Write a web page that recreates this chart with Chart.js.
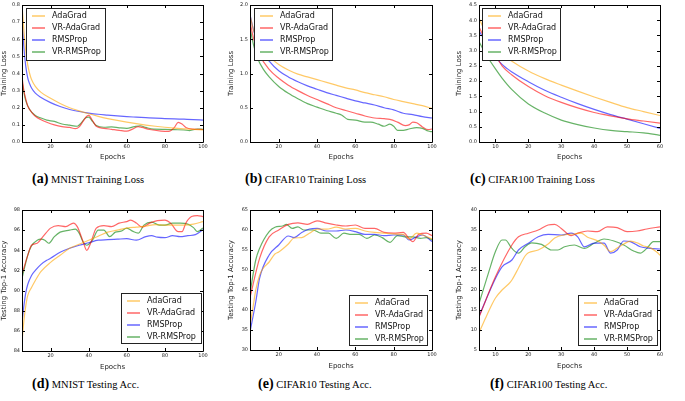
<!DOCTYPE html>
<html>
<head>
<meta charset="utf-8">
<script src="https://cdn.jsdelivr.net/npm/chart.js@4.4.1/dist/chart.umd.min.js"></script>
<style>
  body { margin: 0; background: #fff; width: 685px; height: 401px; position: relative; overflow: hidden; }
  canvas { position: absolute; }
  .cap { position: absolute; font-family: "Liberation Serif", "DejaVu Serif", serif; font-size: 10.5px; color: #000; white-space: nowrap; }
  .cap b { font-size: 14px; }
</style>
</head>
<body>
<canvas id="a" width="215" height="165" style="left:0px;top:0px"></canvas>
<canvas id="b" width="215" height="165" style="left:225px;top:0px"></canvas>
<canvas id="c" width="225" height="165" style="left:450px;top:0px"></canvas>
<canvas id="d" width="215" height="173" style="left:0px;top:200px"></canvas>
<canvas id="e" width="215" height="172" style="left:225px;top:200px"></canvas>
<canvas id="f" width="225" height="172" style="left:450px;top:200px"></canvas>

<div class="cap" style="left:32px;top:171px"><b>(a)</b> MNIST Training Loss</div>
<div class="cap" style="left:245px;top:171px"><b>(b)</b> CIFAR10 Training Loss</div>
<div class="cap" style="left:470px;top:171px"><b>(c)</b> CIFAR100 Training Loss</div>
<div class="cap" style="left:32px;top:376px"><b>(d)</b> MNIST Testing Acc.</div>
<div class="cap" style="left:258px;top:376px"><b>(e)</b> CIFAR10 Testing Acc.</div>
<div class="cap" style="left:490px;top:376px"><b>(f)</b> CIFAR100 Testing Acc.</div>

<script>
// series names and colours (same for every panel)
const seriesNames = ["AdaGrad", "VR-AdaGrad", "RMSProp", "VR-RMSProp"];
const seriesColors = ["rgba(255,165,0,0.6)", "rgba(255,0,0,0.6)", "rgba(0,0,255,0.6)", "rgba(0,128,0,0.6)"];

// x tick labels
const epochTicks100 = [20, 40, 60, 80, 100];
const epochTicks60 = [10, 20, 30, 40, 50, 60];

// (a) MNIST training loss, [epoch, loss]
const mnistLossAdaGrad = [[5,0.80],[6,0.65],[7,0.53],[8,0.45],[9,0.40],[10,0.365],[12,0.325],[15,0.29],[20,0.255],[25,0.225],[30,0.20],[35,0.182],[40,0.165],[45,0.15],[50,0.137],[55,0.126],[60,0.116],[65,0.107],[70,0.099],[75,0.092],[80,0.086],[85,0.081],[90,0.077],[95,0.074],[100,0.071]];
const mnistLossVRAdaGrad = [[5,0.38],[6,0.30],[7,0.25],[8,0.21],[10,0.175],[12,0.15],[15,0.13],[18,0.115],[22,0.10],[26,0.09],[30,0.085],[33,0.078],[35,0.088],[37,0.12],[39,0.15],[40,0.155],[42,0.125],[44,0.092],[48,0.08],[52,0.074],[56,0.068],[60,0.063],[63,0.075],[66,0.09],[68,0.085],[72,0.073],[78,0.064],[82,0.062],[85,0.085],[87,0.115],[89,0.105],[91,0.085],[95,0.075],[100,0.073]];
const mnistLossRMSProp = [[5,0.72],[6,0.55],[7,0.44],[8,0.375],[9,0.34],[10,0.315],[12,0.285],[15,0.26],[20,0.23],[25,0.207],[30,0.19],[35,0.178],[40,0.169],[45,0.162],[50,0.157],[55,0.152],[60,0.148],[65,0.145],[70,0.142],[75,0.139],[80,0.137],[85,0.135],[90,0.133],[95,0.131],[100,0.128]];
const mnistLossVRRMSProp = [[5,0.36],[6,0.29],[7,0.24],[9,0.19],[12,0.155],[15,0.14],[18,0.128],[22,0.12],[26,0.105],[30,0.098],[34,0.092],[36,0.11],[38,0.138],[40,0.145],[42,0.12],[44,0.096],[48,0.086],[52,0.088],[56,0.083],[60,0.08],[64,0.09],[67,0.095],[70,0.085],[74,0.075],[80,0.074],[85,0.072],[90,0.07],[93,0.067],[97,0.076],[100,0.074]];

// (b) CIFAR10 training loss
const cifar10LossAdaGrad = [[5,1.85],[7,1.62],[10,1.43],[15,1.25],[20,1.13],[25,1.05],[30,0.99],[35,0.95],[40,0.91],[45,0.87],[50,0.83],[55,0.79],[60,0.76],[65,0.72],[70,0.69],[75,0.66],[80,0.62],[85,0.59],[90,0.56],[95,0.53],[100,0.49]];
const cifar10LossVRAdaGrad = [[5,1.75],[7,1.5],[10,1.27],[15,1.06],[20,0.93],[25,0.83],[30,0.75],[35,0.68],[40,0.62],[45,0.56],[50,0.5],[55,0.46],[60,0.42],[65,0.38],[70,0.35],[75,0.34],[78,0.33],[82,0.29],[86,0.24],[88,0.25],[90,0.29],[92,0.28],[95,0.22],[98,0.18],[100,0.19]];
const cifar10LossRMSProp = [[5,1.86],[7,1.62],[10,1.38],[15,1.18],[20,1.04],[25,0.95],[30,0.88],[35,0.82],[40,0.77],[45,0.72],[50,0.68],[55,0.64],[60,0.6],[65,0.57],[70,0.54],[75,0.5],[80,0.47],[85,0.42],[90,0.4],[95,0.37],[100,0.35]];
const cifar10LossVRRMSProp = [[5,1.66],[7,1.4],[9,1.22],[12,1.06],[15,0.95],[20,0.81],[25,0.71],[30,0.63],[35,0.56],[40,0.51],[45,0.46],[50,0.42],[53,0.39],[56,0.33],[60,0.32],[65,0.29],[68,0.29],[72,0.26],[75,0.23],[78,0.26],[80,0.23],[82,0.17],[85,0.17],[88,0.19],[92,0.21],[95,0.2],[98,0.16],[100,0.15]];

// (c) CIFAR100 training loss
const cifar100LossAdaGrad = [[5,4.07],[7,3.6],[10,3.1],[12,2.9],[15,2.65],[20,2.33],[25,2.08],[30,1.87],[35,1.67],[40,1.48],[45,1.3],[50,1.13],[55,1.0],[60,0.87]];
const cifar100LossVRAdaGrad = [[5,3.78],[7,3.35],[10,2.85],[12,2.5],[15,2.2],[20,1.82],[25,1.52],[30,1.3],[35,1.12],[40,0.97],[45,0.86],[50,0.76],[55,0.69],[60,0.62]];
const cifar100LossRMSProp = [[5,3.65],[7,3.3],[10,2.8],[12,2.55],[15,2.3],[20,1.98],[25,1.7],[30,1.47],[35,1.26],[40,1.07],[45,0.9],[50,0.75],[55,0.6],[60,0.45]];
const cifar100LossVRRMSProp = [[5,3.3],[7,2.9],[10,2.4],[12,2.1],[15,1.72],[20,1.25],[25,0.95],[30,0.72],[35,0.57],[40,0.46],[45,0.38],[50,0.34],[55,0.3],[60,0.22]];

// (d) MNIST testing top-1 accuracy
const mnistAccAdaGrad = [[5,84.9],[6,87],[7,88.5],[8,89.5],[10,90.3],[12,91.0],[15,91.9],[20,92.8],[25,93.5],[30,94.2],[35,94.6],[40,95.0],[45,95.4],[50,95.8],[55,96.0],[60,96.2],[65,96.3],[70,96.4],[75,96.55],[80,96.5],[85,96.5],[90,96.5],[95,96.6],[100,96.85]];
const mnistAccVRAdaGrad = [[5,91.6],[8,93.5],[10,94.5],[13,94.7],[16,95.35],[20,96.2],[24,96.45],[28,96.35],[32,96.7],[34,96.35],[37,94.9],[39,94.0],[41,94.7],[44,96.2],[48,96.45],[52,96.35],[56,96.7],[60,96.85],[62,97.0],[65,96.7],[68,96.3],[72,96.7],[76,96.95],[80,97.0],[83,96.7],[87,95.85],[89,95.85],[91,96.7],[94,97.35],[97,97.45],[100,97.35]];
const mnistAccRMSProp = [[5,86.8],[6,88.5],[7,89.8],[8,90.6],[10,91.5],[12,92.0],[15,92.6],[18,93.0],[20,93.2],[25,93.8],[30,94.2],[35,94.5],[40,94.75],[45,95.0],[50,95.05],[55,95.1],[60,95.15],[65,95.0],[70,95.35],[73,95.45],[76,95.3],[80,95.25],[84,95.45],[88,95.35],[92,95.45],[96,95.55],[100,96.05]];
const mnistAccVRRMSProp = [[5,91.2],[8,93.5],[10,94.45],[13,95.0],[15,95.1],[17,95.0],[19,94.7],[22,95.35],[25,95.8],[30,96.0],[33,96.1],[35,95.7],[37,94.85],[39,94.5],[42,95.0],[45,96.0],[48,96.0],[51,95.35],[54,95.8],[57,95.9],[60,96.2],[63,95.9],[66,95.7],[69,96.5],[73,96.8],[77,96.5],[80,96.5],[84,96.7],[88,96.7],[92,96.6],[95,96.25],[97,95.85],[100,96.2]];

// (e) CIFAR10 testing top-1 accuracy
const cifar10AccAdaGrad = [[5,36],[7,42],[8,45],[10,48.7],[12,50.5],[15,52],[18,54],[20,54.5],[25,56.5],[28,58],[32,58.1],[36,59.2],[40,60.2],[45,60.2],[50,60.7],[55,60.25],[60,60.4],[65,59.75],[70,59.4],[75,59.2],[80,59.0],[85,58.9],[88,57.75],[92,59.2],[95,58.75],[100,57.75]];
const cifar10AccVRAdaGrad = [[5,43.1],[10,52.9],[15,58.3],[20,60.0],[25,61.4],[30,61.8],[35,61.4],[40,62.3],[45,61.7],[50,61.25],[55,61.0],[60,61.25],[65,60.4],[70,60.4],[75,59.4],[80,59.2],[85,59.4],[88,57.9],[90,57.1],[93,58.9],[97,59.2],[100,58.6]];
const cifar10AccRMSProp = [[5,34.5],[8,42],[10,47.9],[15,53.75],[20,56.25],[25,58.5],[28,58.1],[32,59.4],[36,60.25],[40,60.4],[45,59.75],[50,59.75],[55,60.0],[60,59.6],[65,58.9],[70,58.9],[75,58.6],[80,58.75],[85,58.75],[88,57.5],[92,58.3],[95,58.75],[100,57.1]];
const cifar10AccVRRMSProp = [[5,44.2],[8,52.5],[10,55.4],[15,59.6],[18,60.7],[22,61.0],[24,61.4],[27,60.4],[30,60.8],[33,60.0],[38,60.0],[42,59.2],[46,59.2],[50,57.9],[54,59.2],[58,58.9],[62,58.9],[66,57.9],[70,58.75],[74,58.1],[78,56.9],[82,58.6],[86,58.3],[90,58.3],[94,57.9],[97,58.1],[100,57.5]];

// (f) CIFAR100 testing top-1 accuracy
const cifar100AccAdaGrad = [[5,9.3],[7,13],[9,16.5],[10,18],[12,20],[14,21.5],[15,22.5],[17,25.5],[19,28.5],[20,29.3],[23,30],[26,31.5],[28,33],[31,33.8],[34,34],[36,34.2],[38,33.2],[41,32.3],[43,31.2],[45,29.6],[47,30.5],[49,31.5],[51,32.2],[53,31.8],[55,31],[57,30.6],[59,29.5],[60,28.7]];
const cifar100AccVRAdaGrad = [[5,13.2],[10,23.3],[15,31.25],[17,33.3],[20,34.2],[23,35],[26,36.25],[28,36.4],[30,35.4],[33,33.6],[35,34.2],[38,34.75],[41,34.6],[44,35.8],[47,35.6],[50,34.6],[53,34.75],[56,35.25],[60,35.8]];
const cifar100AccRMSProp = [[5,13.5],[10,22.9],[12,25.8],[15,27.5],[17,30],[20,31.7],[23,33.3],[26,33.9],[30,33.75],[33,34.2],[35,33.3],[37,30.8],[40,31.7],[43,31.7],[45,29.2],[47,30],[49,32.25],[51,32.1],[54,30.8],[57,30.4],[60,30.25]];
const cifar100AccVRRMSProp = [[5,16.6],[8,24.6],[10,29.6],[12,32.5],[13,32.5],[15,30.4],[17,29.2],[19,30.8],[21,31.8],[24,31.4],[27,30],[29,30],[31,30.8],[34,31.25],[37,30.4],[40,31.7],[43,32.75],[46,32.25],[49,31.25],[52,29.75],[54,29.2],[56,30.4],[58,32.1],[60,32.1]];

const axisFont = "DejaVu Sans";

// plot frame with inward ticks on all four sides
const framePlugin = {
    id: "frame",
    afterDraw(chart) {
        const ctx = chart.ctx;
        const a = chart.chartArea;
        const xs = chart.scales.x, ys = chart.scales.y;
        ctx.save();
        ctx.strokeStyle = "#000";
        ctx.lineWidth = 1;
        ctx.beginPath();
        ctx.rect(Math.round(a.left) + 0.5, Math.round(a.top) + 0.5, Math.round(a.right - a.left), Math.round(a.bottom - a.top));
        ctx.stroke();
        ctx.beginPath();
        xs.ticks.forEach(t => {
            const px = Math.round(xs.getPixelForValue(t.value)) + 0.5;
            ctx.moveTo(px, a.bottom); ctx.lineTo(px, a.bottom - 3);
            ctx.moveTo(px, a.top); ctx.lineTo(px, a.top + 3);
        });
        ys.ticks.forEach(t => {
            const py = Math.round(ys.getPixelForValue(t.value)) + 0.5;
            ctx.moveTo(a.left, py); ctx.lineTo(a.left + 3, py);
            ctx.moveTo(a.right, py); ctx.lineTo(a.right - 3, py);
        });
        ctx.stroke();
        ctx.restore();
    }
};

// matplotlib-style legend box inside the plot
const boxLegendPlugin = {
    id: "boxLegend",
    afterDraw(chart, args, opts) {
        const ctx = chart.ctx;
        const a = chart.chartArea;
        const x0 = opts.corner === "tl" ? a.left + opts.dx : a.right - opts.dx;
        const y0 = opts.corner === "tl" ? a.top + opts.dy : a.bottom - opts.dy;
        ctx.save();
        ctx.fillStyle = "#fff";
        ctx.fillRect(x0, y0, opts.w, opts.h);
        ctx.strokeStyle = "#222";
        ctx.lineWidth = 1;
        ctx.strokeRect(Math.round(x0) + 0.5, Math.round(y0) + 0.5, opts.w, opts.h);
        ctx.font = "8px '" + axisFont + "'";
        ctx.textBaseline = "middle";
        chart.data.datasets.forEach((ds, i) => {
            const y = y0 + 8 + i * 12;
            ctx.strokeStyle = ds.borderColor;
            ctx.lineWidth = 1.5;
            ctx.beginPath();
            ctx.moveTo(x0 + 6, y); ctx.lineTo(x0 + 19, y);
            ctx.stroke();
            ctx.fillStyle = "#111";
            ctx.fillText(ds.label, x0 + 26, y);
        });
        ctx.restore();
    }
};

function makePanel(id, series, xMax, xTicks, yMin, yMax, yStep, yDecimals, yTitle, geo) {
    const datasets = series.map((pts, i) => ({
        label: seriesNames[i],
        data: pts.map(p => ({ x: p[0], y: p[1] })),
        borderColor: seriesColors[i],
        borderWidth: 1.2,
        pointRadius: 0,
        fill: false,
        cubicInterpolationMode: "monotone"
    }));
    return new Chart(document.getElementById(id), {
        type: "line",
        data: { datasets: datasets },
        options: {
            responsive: false,
            animation: false,
            layout: { padding: { top: geo.padTop, right: geo.padRight, left: 0, bottom: 0 } },
            plugins: {
                legend: { display: false },
                tooltip: { enabled: false },
                boxLegend: geo.legend
            },
            scales: {
                x: {
                    type: "linear",
                    min: 5,
                    max: xMax,
                    afterBuildTicks: scale => { scale.ticks = xTicks.map(v => ({ value: v })); },
                    afterFit: scale => { scale.height = geo.xH; },
                    grid: { display: false, drawTicks: false },
                    border: { display: false },
                    ticks: { padding: 2, color: "#222", font: { family: axisFont, size: 5 }, maxRotation: 0 },
                    title: { display: true, text: "Epochs", color: "#222", font: { family: axisFont, size: 7 }, padding: { top: 0, bottom: geo.xTitlePad } }
                },
                y: {
                    min: yMin,
                    max: yMax,
                    afterFit: scale => { scale.width = geo.yW; },
                    grid: { display: false, drawTicks: false },
                    border: { display: false },
                    ticks: { stepSize: yStep, padding: 2, color: "#222", font: { family: axisFont, size: 5 }, callback: v => Number(v).toFixed(yDecimals) },
                    title: { display: true, text: yTitle, color: "#222", font: { family: axisFont, size: 7 }, padding: { top: geo.yTitlePad, bottom: 0 } }
                }
            }
        },
        plugins: [framePlugin, boxLegendPlugin]
    });
}

makePanel("a", [mnistLossAdaGrad, mnistLossVRAdaGrad, mnistLossRMSProp, mnistLossVRRMSProp],
    100, epochTicks100, 0, 0.8, 0.1, 1, "Training Loss",
    { yW: 22, xH: 23, padTop: 2, padRight: 12, yTitlePad: 0, xTitlePad: 4, legend: { corner: "tl", dx: 4, dy: 3, w: 79, h: 52 } });
makePanel("b", [cifar10LossAdaGrad, cifar10LossVRAdaGrad, cifar10LossRMSProp, cifar10LossVRRMSProp],
    100, epochTicks100, 0, 2.0, 0.5, 1, "Training Loss",
    { yW: 25, xH: 23, padTop: 2, padRight: 8, yTitlePad: 2, xTitlePad: 4, legend: { corner: "tl", dx: 4, dy: 3, w: 78, h: 52 } });
makePanel("c", [cifar100LossAdaGrad, cifar100LossVRAdaGrad, cifar100LossRMSProp, cifar100LossVRRMSProp],
    60, epochTicks60, 0, 4.5, 0.5, 1, "Training Loss",
    { yW: 29, xH: 23, padTop: 2, padRight: 15, yTitlePad: 5, xTitlePad: 4, legend: { corner: "tl", dx: 3, dy: 3, w: 78, h: 52 } });
makePanel("d", [mnistAccAdaGrad, mnistAccVRAdaGrad, mnistAccRMSProp, mnistAccVRRMSProp],
    100, epochTicks100, 84, 98, 2, 0, "Testing Top-1 Accuracy",
    { yW: 22, xH: 22, padTop: 10, padRight: 12, yTitlePad: 0, xTitlePad: 2, legend: { corner: "br", dx: 82, dy: 58, w: 80, h: 50 } });
makePanel("e", [cifar10AccAdaGrad, cifar10AccVRAdaGrad, cifar10AccRMSProp, cifar10AccVRRMSProp],
    100, epochTicks100, 30, 65, 5, 0, "Testing Top-1 Accuracy",
    { yW: 25, xH: 22, padTop: 10, padRight: 8, yTitlePad: 2, xTitlePad: 2, legend: { corner: "br", dx: 83, dy: 55, w: 78, h: 50 } });
makePanel("f", [cifar100AccAdaGrad, cifar100AccVRAdaGrad, cifar100AccRMSProp, cifar100AccVRRMSProp],
    60, epochTicks60, 5, 40, 5, 0, "Testing Top-1 Accuracy",
    { yW: 29, xH: 22, padTop: 10, padRight: 15, yTitlePad: 5, xTitlePad: 2, legend: { corner: "br", dx: 82, dy: 55, w: 79, h: 50 } });
</script>
</body>
</html>
